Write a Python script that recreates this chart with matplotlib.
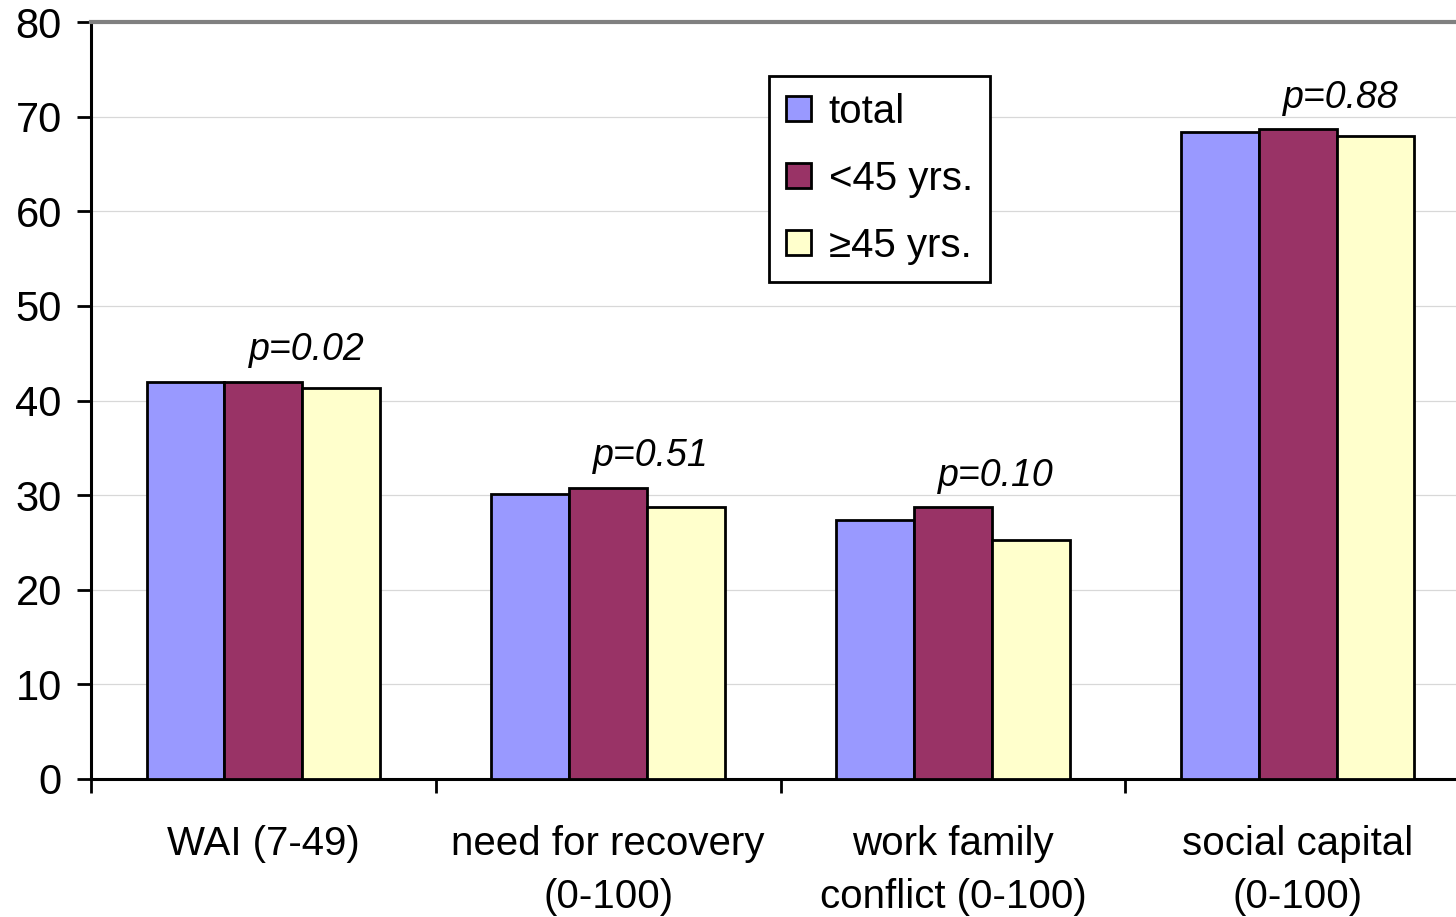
import matplotlib.pyplot as plt
import numpy as np

plt.rcParams['font.family'] = ['Liberation Sans', 'DejaVu Sans']

categories = ["WAI (7-49)", "need for recovery\n(0-100)", "work family\nconflict (0-100)", "social capital\n(0-100)"]
series = ["total", "<45 yrs.", "\u226545 yrs."]
total = [42.0, 30.1, 27.4, 68.4]
young = [42.0, 30.8, 28.7, 68.7]
old = [41.3, 28.7, 25.3, 68.0]
pvals = ["p=0.02", "p=0.51", "p=0.10", "p=0.88"]
colors = ["#9999FF", "#993366", "#FFFFCC"]

fig = plt.figure(figsize=(14.56, 9.17), dpi=100)
ax = fig.add_axes([91 / 1456, 1 - 779 / 917, 1379 / 1456, 757 / 917])

x = np.arange(len(categories))
w = 0.226
for k, (vals, lab) in enumerate(zip([total, young, old], series)):
    ax.bar(x + (k - 1) * w, vals, w, color=colors[k], edgecolor="black",
           linewidth=2.0, label=lab, zorder=3)

for i, p in enumerate(pvals):
    top = max(total[i], young[i], old[i])
    ax.text(i + 0.125, top + 3.3, p, ha="center", va="center",
            fontsize=27, style="italic")

ax.set_xlim(-0.5, 3.5)
ax.set_ylim(0, 80)
ax.set_yticks(range(0, 81, 10))
ax.tick_params(axis="y", labelsize=30, length=10, width=2, direction="out", pad=11)
ax.set_xticks(x)
ax.set_xticklabels(categories, fontsize=29, linespacing=1.5)
ax.tick_params(axis="x", which="major", length=0, pad=33)
ax.set_xticks(np.arange(-0.5, 4, 1), minor=True)
ax.tick_params(axis="x", which="minor", length=10, width=2, direction="out")

ax.yaxis.grid(True, color="#d8d8d8", linewidth=0.9, zorder=0)
ax.set_axisbelow(True)
ax.spines["left"].set_linewidth(2.2)
ax.spines["bottom"].set_linewidth(2.2)
ax.spines["top"].set_color("#808080")
ax.spines["top"].set_linewidth(3)
ax.spines["right"].set_visible(False)

leg = ax.legend(loc="upper left", bbox_to_anchor=(0.492, 0.929), fontsize=29,
                frameon=True, fancybox=False, edgecolor="black", framealpha=1,
                handlelength=0.6, handleheight=0.6, handletextpad=0.45,
                labelspacing=0.72, borderpad=0.42, borderaxespad=0)
leg.get_frame().set_linewidth(2)
for h in leg.legend_handles:
    h.set_linewidth(2)

fig.savefig("out.png", dpi=100)
